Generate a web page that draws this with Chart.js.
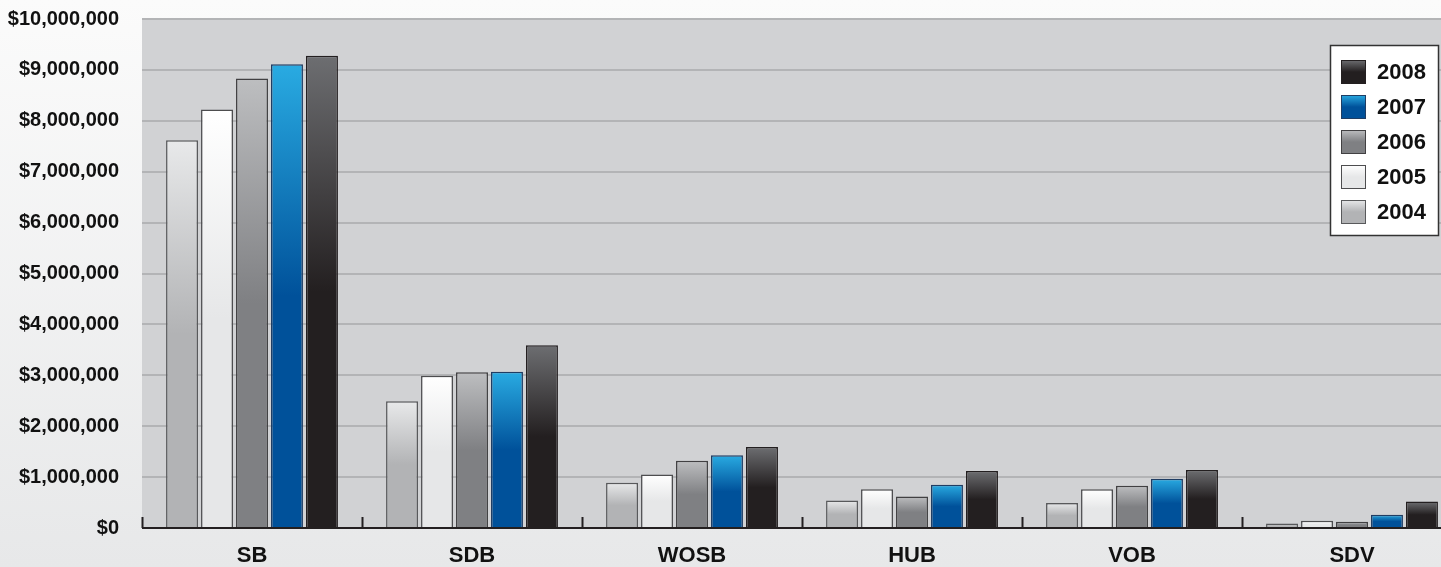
<!DOCTYPE html>
<html>
<head>
<meta charset="utf-8">
<script src="https://cdn.jsdelivr.net/npm/chart.js@4.4.0/dist/chart.umd.min.js"></script>
<style>
  html, body { margin: 0; padding: 0; overflow: hidden; }
  body { width: 1441px; height: 567px; background: linear-gradient(#fbfbfb, #e7e8e9); }
  #wrap { width: 1441px; height: 567px; overflow: hidden; }
</style>
</head>
<body>
<div id="wrap"><canvas id="chart" width="1470" height="567"></canvas></div>
<script>
// data
const categories = ["SB", "SDB", "WOSB", "HUB", "VOB", "SDV"];
const years = ["2004", "2005", "2006", "2007", "2008"];
const v2004 = [7620000, 2490000, 890000, 540000, 490000, 86000];
const v2005 = [8220000, 2990000, 1050000, 760000, 760000, 140000];
const v2006 = [8830000, 3060000, 1320000, 620000, 830000, 125000];
const v2007 = [9110000, 3070000, 1430000, 850000, 970000, 260000];
const v2008 = [9280000, 3590000, 1590000, 1120000, 1140000, 520000];
const yMax = 10000000;
const yStep = 1000000;

const FONT = '"Liberation Sans", Arial, sans-serif';

// gradient stops per year: top colour -> colour from mid-bar down
const shades = [
  { top: "#e8e9ea", bot: "#b2b3b5", line: "#58595b" },
  { top: "#ffffff", bot: "#e6e7e8", line: "#4d4d4f" },
  { top: "#bdbec0", bot: "#7f8083", line: "#414042" },
  { top: "#29abe2", bot: "#00519a", line: "#1f3d63" },
  { top: "#6d6e71", bot: "#231f20", line: "#231f20" },
];
const series = [v2004, v2005, v2006, v2007, v2008];

function barGradient(ctx2d, top, bottom, s) {
  const g = ctx2d.createLinearGradient(0, top, 0, top + (bottom - top) / 2);
  g.addColorStop(0, s.top);
  g.addColorStop(1, s.bot);
  return g;
}

const datasets = years.map((yr, i) => ({
  label: yr,
  data: series[i],
  borderColor: shades[i].line,
  borderWidth: 1.5,
  barPercentage: 0.914,
  categoryPercentage: 0.795,
  backgroundColor: (c) => {
    const chart = c.chart;
    if (!chart.chartArea || c.type !== "data") return shades[i].bot;
    const y = chart.scales.y;
    return barGradient(chart.ctx, y.getPixelForValue(c.raw), y.getPixelForValue(0), shades[i]);
  },
}));

const plotBg = {
  id: "plotBg",
  beforeDraw(chart) {
    const { ctx, chartArea: a } = chart;
    ctx.save();
    ctx.fillStyle = "#d1d2d4";
    ctx.fillRect(a.left, a.top, a.right - a.left, a.bottom - a.top);
    ctx.restore();
  },
};

// baseline with small upward ticks between categories
const baseAxis = {
  id: "baseAxis",
  afterDatasetsDraw(chart) {
    const { ctx, chartArea: a } = chart;
    const n = chart.data.labels.length;
    const step = (a.right - a.left) / n;
    ctx.save();
    ctx.strokeStyle = "#231f20";
    ctx.lineWidth = 2;
    ctx.beginPath();
    ctx.moveTo(a.left, a.bottom);
    ctx.lineTo(a.right, a.bottom);
    for (let i = 0; i <= n; i++) {
      const px = Math.round(a.left + i * step) + 0.5;
      ctx.moveTo(px, a.bottom);
      ctx.lineTo(px, a.bottom - 11);
    }
    ctx.stroke();
    ctx.restore();
  },
};

// boxed legend inside the plot, newest year first
const boxLegend = {
  id: "boxLegend",
  afterDraw(chart) {
    const { ctx } = chart;
    const x0 = 1330, y0 = 45, w = 108, h = 190;
    ctx.save();
    ctx.fillStyle = "#ffffff";
    ctx.fillRect(x0, y0, w, h);
    ctx.strokeStyle = "#333333";
    ctx.lineWidth = 1.5;
    ctx.strokeRect(x0 + 0.5, y0 + 0.5, w, h);
    ctx.font = "bold 22px " + FONT;
    ctx.textBaseline = "middle";
    const items = chart.data.datasets.map((d, i) => i).reverse();
    items.forEach((di, k) => {
      const cy = y0 + 27 + k * 35;
      const s = shades[di];
      ctx.fillStyle = barGradient(ctx, cy - 12, cy + 12, s);
      ctx.fillRect(x0 + 11, cy - 12, 25, 24);
      ctx.strokeStyle = s.line;
      ctx.lineWidth = 1;
      ctx.strokeRect(x0 + 11.5, cy - 11.5, 24, 23);
      ctx.fillStyle = "#111111";
      ctx.fillText(chart.data.datasets[di].label, x0 + 47, cy + 1);
    });
    ctx.restore();
  },
};

new Chart(document.getElementById("chart"), {
  type: "bar",
  data: { labels: categories, datasets: datasets },
  plugins: [plotBg, baseAxis, boxLegend],
  options: {
    responsive: false,
    animation: false,
    layout: { padding: { top: 19, right: 8, left: 0, bottom: 0 } },
    plugins: { legend: { display: false }, tooltip: { enabled: false } },
    scales: {
      x: {
        grid: { display: false, drawTicks: false },
        border: { display: false },
        ticks: { color: "#111111", padding: 15, font: { family: FONT, size: 22, weight: "bold" } },
        afterFit: (s) => { s.height = 39; },
      },
      y: {
        min: 0,
        max: yMax,
        // invisible tick marks keep the labels away from the plot edge
        grid: { color: "#b3b4b6", lineWidth: 2, drawTicks: true, tickLength: 23, tickColor: "rgba(0,0,0,0)" },
        border: { display: false },
        ticks: {
          stepSize: yStep,
          padding: 0,
          color: "#111111",
          font: { family: FONT, size: 20, weight: "bold" },
          callback: (v) => "$" + Number(v).toLocaleString("en-US"),
        },
        afterFit: (s) => { s.width = 142; },
      },
    },
  },
});
</script>
</body>
</html>
